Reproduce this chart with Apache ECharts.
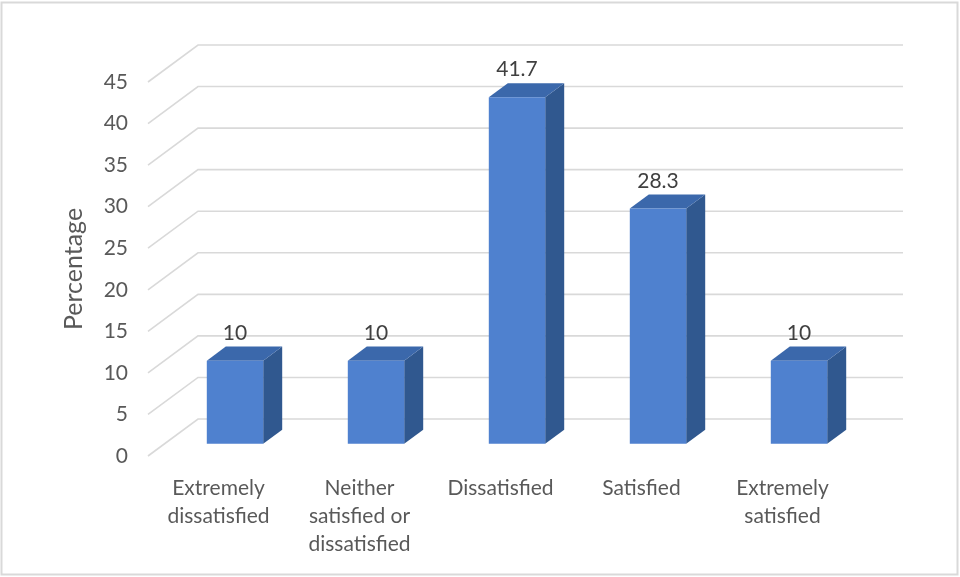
<!DOCTYPE html>
<html>
<head>
<meta charset="utf-8">
<script src="https://cdn.jsdelivr.net/npm/echarts@6/dist/echarts.min.js"></script>
<style>
  html, body { margin: 0; padding: 0; background: #fff; }
  #chart { width: 960px; height: 577px; }
</style>
</head>
<body>
<div id="chart"></div>
<script>
// Satisfaction categories and their share of respondents (%)
const categories = [
  'Extremely\ndissatisfied',
  'Neither\nsatisfied or\ndissatisfied',
  'Dissatisfied',
  'Satisfied',
  'Extremely\nsatisfied'
];
const percentages = [10, 10, 41.7, 28.3, 10];
const yTicks = [0, 5, 10, 15, 20, 25, 30, 35, 40, 45];

// Oblique projection of the floor depth (pixels) and bar placement within it
const DEPTH_X = 50;
const DEPTH_Y = -37;
const BAR_FRONT = 0.33;   // fraction of depth where the bar front face sits
const BAR_BACK = 0.71;    // fraction of depth where the bar back face sits
const BAR_WIDTH = 0.40;   // fraction of the category band
const FONT = 'Lato, "Open Sans", sans-serif';

const chart = echarts.init(document.getElementById('chart'), null, { renderer: 'canvas' });

function renderGrid(params, api) {
  const cs = params.coordSys;
  const y = api.coord([0, api.value(1)])[1];
  const left = cs.x;
  const right = cs.x + cs.width;
  return {
    type: 'polyline',
    silent: true,
    shape: { points: [[left, y], [left + DEPTH_X, y + DEPTH_Y], [right + DEPTH_X, y + DEPTH_Y]] },
    style: { stroke: '#d9d9d9', lineWidth: 1.6, fill: null }
  };
}

function renderBar(params, api) {
  const i = api.value(0);
  const v = api.value(1);
  const base = api.coord([i, 0]);
  const top = api.coord([i, v]);
  const bw = api.size([1, 0])[0] * BAR_WIDTH;
  const x0 = base[0] - bw / 2 + BAR_FRONT * DEPTH_X;
  const x1 = x0 + bw;
  const yb = base[1] + BAR_FRONT * DEPTH_Y;
  const yt = top[1] + BAR_FRONT * DEPTH_Y;
  const ddx = (BAR_BACK - BAR_FRONT) * DEPTH_X;
  const ddy = (BAR_BACK - BAR_FRONT) * DEPTH_Y;
  return {
    type: 'group',
    children: [
      {
        type: 'polygon',
        shape: { points: [[x1, yt], [x1 + ddx, yt + ddy], [x1 + ddx, yb + ddy], [x1, yb]] },
        style: { fill: '#30588f' }
      },
      {
        type: 'polygon',
        shape: { points: [[x0, yt], [x1, yt], [x1 + ddx, yt + ddy], [x0 + ddx, yt + ddy]] },
        style: { fill: '#3b68ab' }
      },
      {
        type: 'rect',
        shape: { x: x0, y: yt, width: bw, height: yb - yt },
        style: { fill: '#4f81cf' }
      },
      {
        type: 'text',
        x: (x0 + x1) / 2,
        y: yt + ddy - 3,
        style: {
          text: String(v),
          align: 'center',
          verticalAlign: 'bottom',
          font: '21px ' + FONT,
          fill: '#404040'
        }
      }
    ]
  };
}

chart.setOption({
  backgroundColor: '#ffffff',
  animation: false,
  graphic: [{
    type: 'rect',
    shape: { x: 1.5, y: 2.5, width: 956, height: 572 },
    style: { fill: null, stroke: '#d9d9d9', lineWidth: 2 },
    silent: true
  }],
  grid: { left: 148, right: 107, top: 82, bottom: 121 },
  xAxis: {
    type: 'category',
    data: categories,
    axisLine: { show: false },
    axisTick: { show: false },
    splitLine: { show: false },
    axisLabel: {
      interval: 0,
      margin: 18,
      color: '#595959',
      fontFamily: FONT,
      fontSize: 21,
      lineHeight: 28
    }
  },
  yAxis: {
    type: 'value',
    min: 0,
    max: 45,
    interval: 5,
    name: 'Percentage',
    nameLocation: 'middle',
    nameRotate: 90,
    nameGap: 62,
    nameTextStyle: { color: '#595959', fontFamily: FONT, fontSize: 25 },
    axisLine: { show: false },
    axisTick: { show: false },
    splitLine: { show: false },
    axisLabel: {
      margin: 20,
      color: '#595959',
      fontFamily: FONT,
      fontSize: 21
    }
  },
  series: [
    {
      type: 'custom',
      renderItem: renderGrid,
      data: yTicks.map(t => [0, t]),
      z: 1,
      silent: true
    },
    {
      type: 'custom',
      renderItem: renderBar,
      data: percentages.map((p, i) => [i, p]),
      z: 2
    }
  ]
});
</script>
</body>
</html>
